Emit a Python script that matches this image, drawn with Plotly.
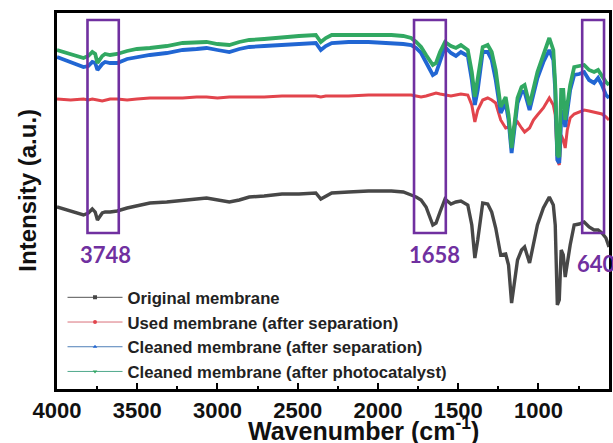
import plotly.graph_objects as go

# FTIR spectra of the membrane before/after separation and cleaning
wavenumber = [
    4000, 3915, 3835, 3805, 3780, 3762, 3748, 3718, 3700, 3669,
    3625, 3563, 3502, 3421, 3316, 3217, 3130, 3068, 3000, 2926,
    2864, 2802, 2709, 2598, 2492, 2387, 2356, 2325, 2288, 2183,
    2059, 1916, 1842, 1793, 1762, 1731, 1700, 1658, 1638, 1613,
    1582, 1545, 1514, 1483, 1440, 1415, 1396, 1378, 1347, 1316,
    1291, 1266, 1235, 1204, 1186, 1167, 1148, 1130, 1105, 1086,
    1055, 1031, 1006, 969, 932, 907, 895, 882, 870, 858,
    845, 833, 820, 802, 777, 746, 715, 684, 653, 628,
    604, 579, 560,
]

original = [
    182, 178, 174, 176, 180, 177, 169, 176, 177, 177,
    178, 181, 183, 186, 187, 189, 190, 191, 189, 187,
    189, 192, 193, 195, 195, 196, 190, 193, 196, 197,
    198, 198, 197, 194, 192, 189, 182, 164, 166, 177,
    190, 185, 187, 188, 184, 164, 131, 149, 186, 185,
    177, 161, 134, 135, 124, 86, 109, 129, 139, 142,
    126, 146, 164, 181, 192, 184, 164, 84, 89, 139,
    134, 112, 127, 144, 164, 165, 167, 162, 159, 159,
    156, 151, 142,
]

used = [
    290, 289, 290, 289, 290, 289, 289, 288, 289, 290,
    290, 289, 290, 291, 291, 291, 292, 292, 291, 292,
    292, 292, 292, 293, 293, 293, 292, 293, 293, 293,
    294, 294, 294, 294, 293, 292, 293, 295, 296, 295,
    294, 293, 294, 295, 294, 284, 267, 279, 289, 291,
    289, 286, 269, 261, 262, 256, 264, 267, 261, 257,
    261, 269, 274, 281, 291, 284, 274, 229, 224, 254,
    249, 241, 259, 271, 275, 277, 279, 278, 277, 276,
    275, 272, 269,
]

cleaned_sep = [
    332, 327, 322, 323, 327, 326, 319, 325, 327, 326,
    326, 330, 332, 334, 336, 339, 340, 341, 339, 337,
    340, 342, 343, 344, 345, 346, 339, 343, 346, 347,
    347, 346, 345, 344, 341, 336, 327, 314, 316, 329,
    342, 336, 333, 337, 333, 309, 284, 299, 337, 337,
    329, 309, 276, 286, 269, 236, 259, 286, 297, 297,
    279, 294, 311, 327, 339, 329, 299, 229, 226, 269,
    279, 262, 277, 299, 314, 315, 317, 309, 306, 311,
    304, 294, 291,
]

cleaned_photo = [
    339, 335, 331, 333, 337, 335, 326, 333, 335, 334,
    335, 338, 340, 341, 343, 346, 347, 347, 345, 344,
    347, 349, 350, 352, 353, 354, 347, 351, 354, 354,
    354, 354, 353, 351, 347, 342, 334, 324, 326, 337,
    347, 343, 341, 344, 339, 317, 292, 309, 342, 344,
    337, 319, 282, 292, 274, 241, 269, 291, 302, 304,
    284, 301, 317, 334, 351, 339, 304, 234, 232, 299,
    299, 269, 284, 304, 322, 323, 324, 319, 317, 319,
    313, 307, 304,
]

series_names = [
    "Original membrane",
    "Used membrane (after separation)",
    "Cleaned membrane (after separation)",
    "Cleaned membrane (after photocatalyst)",
]
series_values = [original, used, cleaned_sep, cleaned_photo]
series_colors = ["#474747", "#e2444c", "#2166d3", "#31a862"]
legend_colors = ["#555555", "#d9707a", "#4f7fb8", "#4fa88c"]
legend_symbols = ["square", "circle", "triangle-up", "triangle-down"]
line_widths = [3.4, 3.0, 3.8, 3.8]

# highlighted bands and their labels
band_edges = [(3810, 3615), (1775, 1577), (727, 591)]
band_labels = ["3748", "1658", "640"]
band_label_x = [3700, 1650, 770]
band_label_y = [135, 135, 126]
band_label_anchor = ["center", "center", "left"]
band_low, band_high = 156, 369

x_ticks = [4000, 3500, 3000, 2500, 2000, 1500, 1000]

fig = go.Figure()

for name, vals, col, lw in zip(series_names, series_values, series_colors, line_widths):
    fig.add_trace(go.Scatter(
        x=wavenumber, y=vals, mode="lines", name=name,
        line=dict(color=col, width=lw), showlegend=False,
    ))

# legend entries drawn with thin line + small symbol
for i, (name, col, sym) in enumerate(zip(series_names, legend_colors, legend_symbols)):
    fig.add_trace(go.Scatter(
        x=[None], y=[None], mode="lines+markers", name=name,
        line=dict(color=col, width=1),
        marker=dict(symbol=sym, size=4, color=series_colors[i]),
        legendgroup=f"g{i}",
    ))

purple = "#7030a0"
for (x0, x1), lab, lx, ly, anc in zip(band_edges, band_labels, band_label_x,
                                      band_label_y, band_label_anchor):
    fig.add_shape(type="rect", xref="x", yref="y", x0=x0, x1=x1,
                  y0=band_low, y1=band_high,
                  line=dict(color=purple, width=2.6), fillcolor="rgba(0,0,0,0)")
    fig.add_annotation(x=lx, y=ly, xref="x", yref="y", text=lab, showarrow=False,
                       xanchor=anc, yanchor="middle",
                       font=dict(family="Lato, Liberation Sans, Arial", size=22,
                                 color=purple, weight="bold"))

# axis titles
fig.add_annotation(x=(365 - 57) / 555, y=-0.106, xref="paper", yref="paper",
                   text="Wavenumber (cm<sup>-1</sup>)", showarrow=False,
                   xanchor="center", yanchor="middle",
                   font=dict(family="Liberation Sans, Arial", size=25,
                             color="#111111", weight="bold"))
fig.add_annotation(x=-0.055, y=(389 - 190) / 376, xref="paper", yref="paper",
                   text="Intensity (a.u.)", showarrow=False, textangle=-90,
                   xanchor="center", yanchor="middle",
                   font=dict(family="Liberation Sans, Arial", size=24,
                             color="#111111", weight="bold"))

fig.update_layout(
    width=613, height=443,
    margin=dict(l=57, r=1, t=13, b=54),
    paper_bgcolor="white", plot_bgcolor="white",
    showlegend=True,
    legend=dict(
        x=0.01, y=0.29, xanchor="left", yanchor="top",
        bgcolor="rgba(0,0,0,0)", borderwidth=0,
        font=dict(family="Liberation Sans, Arial", size=16.7, color="#222222",
                  weight="bold"),
        itemwidth=55, tracegroupgap=0, traceorder="normal",
    ),
)

fig.update_xaxes(
    range=[4000, 560], tickvals=x_ticks, ticktext=[str(v) for v in x_ticks],
    ticks="inside", ticklen=6, tickwidth=2, tickcolor="black",
    minor=dict(dtick=250, tick0=0, ticks="inside", ticklen=3, tickwidth=2,
               tickcolor="black"),
    showline=True, linewidth=2.5, linecolor="black", mirror=True,
    showgrid=False, zeroline=False,
    tickfont=dict(family="Liberation Sans, Arial", size=22, color="#111111",
                  weight="bold"),
)
fig.update_yaxes(
    range=[0, 376], showticklabels=False, ticks="",
    showline=True, linewidth=2.5, linecolor="black", mirror=True,
    showgrid=False, zeroline=False,
)

fig.write_html("out.html")
